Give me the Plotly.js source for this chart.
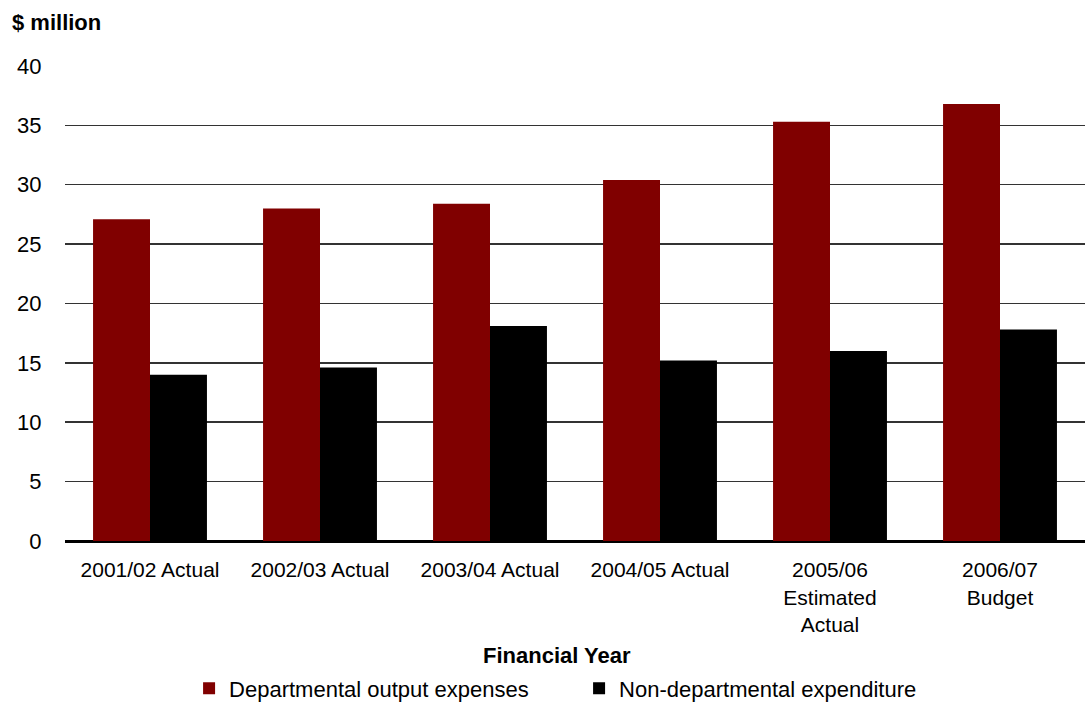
<!DOCTYPE html>
<html>
<head>
<meta charset="utf-8">
<script src="https://cdn.plot.ly/plotly-3.0.1.min.js"></script>
<style>html,body{margin:0;padding:0;background:#fff;}#chart{width:1085px;height:704px;}</style>
</head>
<body>
<div id="chart"></div>
<script>
const categories = ["2001/02 Actual", "2002/03 Actual", "2003/04 Actual", "2004/05 Actual", "2005/06<br>Estimated<br>Actual", "2006/07<br>Budget"];
const departmental = [27.1, 28.0, 28.4, 30.4, 35.3, 36.8];
const nonDepartmental = [14.0, 14.6, 18.1, 15.2, 16.0, 17.8];
const yTicks = [0, 5, 10, 15, 20, 25, 30, 35, 40];

const font = "'Liberation Sans', Arial, sans-serif";

const traces = [
  {type: "bar", name: "Departmental output expenses", x: categories, y: departmental,
   marker: {color: "#800000"}},
  {type: "bar", name: "Non-departmental expenditure", x: categories, y: nonDepartmental,
   marker: {color: "#000000"}}
];

const layout = {
  width: 1085, height: 704,
  margin: {l: 65, r: 0, t: 65, b: 163, autoexpand: false},
  paper_bgcolor: "#fff", plot_bgcolor: "#fff",
  font: {family: font, size: 22, color: "#000"},
  barmode: "group", bargap: 0.33, bargroupgap: 0,
  showlegend: true,
  legend: {orientation: "h", xref: "paper", x: 0.504, xanchor: "center",
           yref: "container", y: 0.022, yanchor: "middle",
           entrywidth: 345, entrywidthmode: "pixels",
           font: {family: font, size: 22, color: "#000"}},
  xaxis: {
    type: "category", showgrid: false, zeroline: false,
    showline: false, ticks: "outside", ticklen: 10, tickcolor: "rgba(0,0,0,0)",
    tickfont: {family: font, size: 21, color: "#000"}
  },
  yaxis: {
    range: [0, 40.08], tickvals: yTicks, showgrid: true, gridcolor: "#333", gridwidth: 1.5,
    zeroline: true, zerolinecolor: "#000", zerolinewidth: 3,
    showline: false, ticks: "outside", ticklen: 18, tickcolor: "rgba(0,0,0,0)",
    tickfont: {family: font, size: 22, color: "#000"}
  },
  annotations: [
    {text: "<b>$ million</b>", xref: "paper", yref: "paper", x: -0.054, y: 1.09,
     xanchor: "left", yanchor: "middle", showarrow: false,
     font: {family: font, size: 22, color: "#000"}},
    {text: "<b>Financial Year</b>", xref: "paper", yref: "paper", x: 0.482, y: -0.2395,
     xanchor: "center", yanchor: "middle", showarrow: false,
     font: {family: font, size: 22, color: "#000"}}
  ]
};

Plotly.newPlot("chart", traces, layout, {displayModeBar: false, staticPlot: true});
</script>
</body>
</html>
